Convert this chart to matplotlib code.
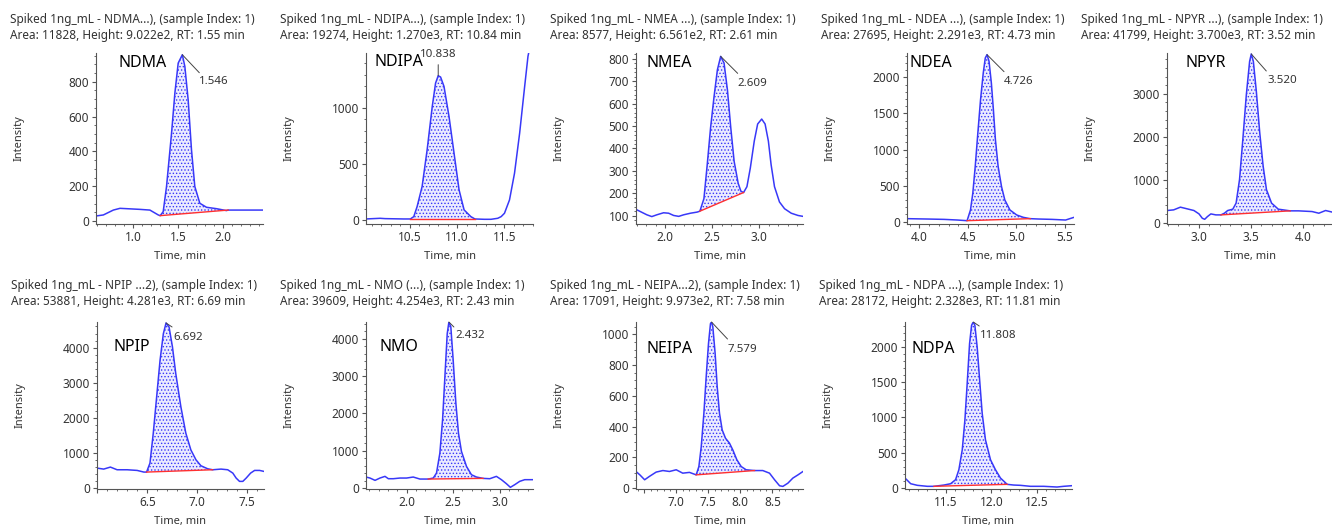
import numpy as np
import matplotlib
matplotlib.use("Agg")
import matplotlib.pyplot as plt
from matplotlib.ticker import MultipleLocator, AutoMinorLocator, FuncFormatter

plt.rcParams['font.family'] = ['Noto Sans', 'DejaVu Sans']
plt.rcParams['hatch.linewidth'] = 0.6

# ---- data (time in min, intensity in cps) ----
ndma_t = [0.585, 0.667, 0.778, 0.852, 1.074, 1.185, 1.278, 1.300, 1.333, 1.370, 1.426, 1.463, 1.500,
          1.546, 1.574, 1.611, 1.648, 1.685, 1.741, 1.815, 1.926, 2.037, 2.056, 2.111, 2.296, 2.444]
ndma_i = [29, 35, 63, 73, 67, 63, 35, 31, 54, 198, 505, 735, 907,
          955, 888, 696, 409, 198, 102, 79, 71, 60, 63, 63, 63, 63]

ndipa_t = [10.039, 10.188, 10.241, 10.436, 10.507, 10.543, 10.578, 10.631, 10.684, 10.738, 10.773, 10.801,
           10.826, 10.862, 10.915, 10.968, 11.021, 11.074, 11.145, 11.188, 11.287, 11.358, 11.429, 11.465,
           11.500, 11.553, 11.606, 11.660, 11.713, 11.748, 11.784, 11.801]
ndipa_i = [9, 15, 12, 9, 9, 30, 119, 299, 627, 1015, 1224, 1290,
           1278, 1194, 925, 597, 269, 90, 30, 9, 6, 6, 15, 30,
           60, 179, 418, 776, 1194, 1463, 1612, 1672]

nmea_t = [1.689, 1.732, 1.804, 1.857, 1.911, 1.982, 2.036, 2.089, 2.143, 2.196, 2.268, 2.339, 2.368,
          2.411, 2.446, 2.482, 2.518, 2.554, 2.589, 2.625, 2.661, 2.696, 2.732, 2.775, 2.804, 2.832,
          2.868, 2.904, 2.946, 2.982, 3.025, 3.061, 3.096, 3.125, 3.161, 3.214, 3.268, 3.339, 3.411, 3.464]
nmea_i = [129, 120, 105, 97, 105, 114, 112, 102, 98, 105, 112, 117, 121,
          177, 328, 494, 629, 750, 810, 780, 660, 494, 343, 245, 210, 204,
          230, 313, 433, 509, 531, 509, 433, 328, 230, 162, 132, 112, 102, 98]

ndea_t = [3.871, 4.080, 4.255, 4.394, 4.492, 4.527, 4.551, 4.576, 4.603, 4.631, 4.659, 4.680, 4.698,
          4.719, 4.743, 4.764, 4.785, 4.813, 4.848, 4.882, 4.935, 5.005, 5.074, 5.144, 5.231, 5.371,
          5.510, 5.563, 5.597]
ndea_i = [42, 37, 32, 23, 14, 162, 394, 764, 1227, 1690, 2060, 2269, 2315,
          2222, 1921, 1551, 1134, 764, 486, 301, 162, 93, 60, 42, 37, 32,
          23, 46, 60]

npyr_t = [2.692, 2.756, 2.821, 2.886, 2.951, 3.000, 3.032, 3.055, 3.081, 3.114, 3.162, 3.211, 3.244,
          3.276, 3.325, 3.357, 3.390, 3.422, 3.455, 3.487, 3.503, 3.523, 3.552, 3.584, 3.617, 3.649,
          3.698, 3.763, 3.877, 3.958, 4.088, 4.153, 4.218, 4.299]
npyr_i = [283, 298, 361, 322, 283, 204, 102, 79, 141, 204, 181, 181, 220,
          283, 314, 456, 1005, 1948, 2969, 3755, 3928, 3755, 3048, 2105, 1320, 770,
          456, 314, 275, 275, 259, 220, 283, 236]

npip_t = [5.997, 6.064, 6.131, 6.198, 6.299, 6.399, 6.466, 6.493, 6.527, 6.560, 6.594, 6.628, 6.661,
          6.688, 6.718, 6.752, 6.785, 6.836, 6.886, 6.936, 6.987, 7.037, 7.104, 7.154, 7.238, 7.305,
          7.356, 7.389, 7.423, 7.456, 7.490, 7.534, 7.574, 7.624, 7.668]
npip_i = [567, 539, 596, 520, 520, 501, 454, 454, 709, 1560, 2600, 3641, 4397,
          4700, 4586, 4019, 3262, 2317, 1560, 1087, 804, 634, 548, 520, 539, 520,
          425, 284, 189, 189, 284, 425, 501, 501, 473]

nmo_t = [1.564, 1.607, 1.661, 1.714, 1.768, 1.804, 1.857, 1.929, 2.000, 2.071, 2.143, 2.232, 2.286,
         2.321, 2.357, 2.386, 2.411, 2.436, 2.454, 2.475, 2.500, 2.529, 2.557, 2.589, 2.643, 2.696,
         2.750, 2.821, 2.893, 2.964, 3.018, 3.071, 3.114, 3.161, 3.214, 3.268, 3.321, 3.357]
nmo_i = [294, 267, 205, 267, 312, 249, 249, 267, 267, 294, 240, 240, 267,
         401, 935, 1826, 2984, 4142, 4454, 4321, 3430, 2272, 1470, 980, 579, 356,
         294, 258, 249, 312, 223, 116, 18, 89, 178, 223, 223, 223]

neipa_t = [6.370, 6.430, 6.505, 6.580, 6.685, 6.790, 6.893, 6.998, 7.100, 7.205, 7.310, 7.352, 7.389,
           7.430, 7.466, 7.502, 7.533, 7.549, 7.570, 7.606, 7.638, 7.674, 7.716, 7.768, 7.830, 7.882,
           7.945, 8.013, 8.090, 8.221, 8.350, 8.455, 8.534, 8.612, 8.664, 8.742, 8.820, 8.900, 8.978]
neipa_i = [108, 86, 54, 76, 104, 114, 108, 119, 97, 102, 86, 140, 270,
           486, 724, 940, 1069, 1080, 1048, 875, 659, 486, 378, 324, 292, 248,
           184, 140, 119, 114, 114, 97, 54, 15, 11, 32, 65, 86, 108]

ndpa_t = [11.056, 11.082, 11.118, 11.191, 11.300, 11.373, 11.482, 11.555, 11.609, 11.645, 11.682, 11.711,
          11.736, 11.762, 11.784, 11.802, 11.820, 11.845, 11.875, 11.900, 11.936, 11.991, 12.045, 12.100,
          12.173, 12.245, 12.318, 12.427, 12.573, 12.718, 12.791, 12.882]
ndpa_i = [141, 108, 61, 38, 24, 24, 42, 61, 118, 259, 541, 965,
          1482, 2047, 2306, 2353, 2306, 2000, 1482, 1059, 682, 400, 259, 141,
          52, 42, 38, 24, 24, 14, 24, 33]

compounds = ["NDMA", "NDIPA", "NMEA", "NDEA", "NPYR", "NPIP", "NMO", "NEIPA", "NDPA"]
title_names = ["NDMA...)", "NDIPA...)", "NMEA ...)", "NDEA ...)", "NPYR ...)",
               "NPIP ...2)", "NMO (...)", "NEIPA...2)", "NDPA ...)"]
areas = [11828, 19274, 8577, 27695, 41799, 53881, 39609, 17091, 28172]
heights = ["9.022e2", "1.270e3", "6.561e2", "2.291e3", "3.700e3", "4.281e3", "4.254e3", "9.973e2", "2.328e3"]
rts = [1.55, 10.84, 2.61, 4.73, 3.52, 6.69, 2.43, 7.58, 11.81]
peak_labels = ["1.546", "10.838", "2.609", "4.726", "3.520", "6.692", "2.432", "7.579", "11.808"]
# integration window: (start time, start level, end time, end level)
baselines = [(1.300, 31, 2.056, 63), (10.507, 9, 11.188, 9), (2.368, 121, 2.832, 204),
             (4.492, 14, 5.144, 42), (3.211, 181, 3.877, 275), (6.493, 454, 7.154, 520),
             (2.232, 240, 2.821, 258), (7.310, 86, 8.221, 114), (11.373, 24, 12.173, 52)]

traces = [(ndma_t, ndma_i), (ndipa_t, ndipa_i), (nmea_t, nmea_i), (ndea_t, ndea_i), (npyr_t, npyr_i),
          (npip_t, npip_i), (nmo_t, nmo_i), (neipa_t, neipa_i), (ndpa_t, ndpa_i)]

# ---- layout (pixels in a 1332x527 canvas) ----
W, H = 1332, 527
lefts = [96, 366, 636, 907, 1167, 97, 366, 636, 905]
row_top = [53, 322]
row_bot = [224, 489]
ax_w = 167
ylims = [(-17, 965), (-36, 1493), (64, 825), (-32, 2338), (-31, 3951),
         (-28, 4728), (-27, 4454), (-6, 1080), (-14, 2353)]
ysteps = [200, 500, 100, 500, 1000, 1000, 1000, 200, 500]
name_pos = [(0.133, 0.94), (0.05, 0.95), (0.064, 0.94), (0.016, 0.94), (0.11, 0.94),
            (0.10, 0.85), (0.08, 0.85), (0.064, 0.84), (0.04, 0.84)]
# leader line end and text anchor, offsets in pixels from the apex
leaders = [((17, -18), (17, -27)), ((0, 11), (0, 21)), ((17, -17), (17, -27)), ((17, -17), (17, -27)),
           ((15, -17), (16, -27)), ((6, -4), (7, -15)), ((5, -5), (7, -14)), ((16, -17), (16, -27)),
           ((6, -4), (7, -14))]

blue = "#3838f8"
red = "#ff3030"
txt = "#333333"

fig = plt.figure(figsize=(W / 100, H / 100), dpi=100)


def make_fmt(lo, hi):
    # the software leaves edge ticks unlabelled
    def f(v, pos):
        if (v - lo) / (hi - lo) < 0.06:
            return ""
        return f"{v:.1f}"
    return FuncFormatter(f)


for k in range(9):
    row = 0 if k < 5 else 1
    left = lefts[k]
    ax = fig.add_axes([left / W, 1 - row_bot[row] / H, ax_w / W, (row_bot[row] - row_top[row]) / H])
    t = np.array(traces[k][0])
    y = np.array(traces[k][1])

    # area under the peak, above the red baseline
    x0, y0, x1, y1 = baselines[k]
    inside = (t > x0) & (t < x1)
    px = np.concatenate([[x0], t[inside], [x1]])
    py = np.concatenate([[y0], y[inside], [y1]])
    ax.fill(px, py, facecolor="#ebebff", edgecolor=blue, hatch=".....", linewidth=0)
    ax.plot(t, y, color=blue, lw=1.1)
    ax.plot([x0, x1], [y0, y1], color=red, lw=1.0)

    ax.set_xlim(t[0], t[-1])
    ax.set_ylim(*ylims[k])
    ax.xaxis.set_major_locator(MultipleLocator(0.5))
    ax.xaxis.set_minor_locator(MultipleLocator(0.1))
    ax.yaxis.set_major_locator(MultipleLocator(ysteps[k]))
    ax.yaxis.set_minor_locator(AutoMinorLocator())
    ax.xaxis.set_major_formatter(make_fmt(t[0], t[-1]))
    for s in ["top", "right"]:
        ax.spines[s].set_visible(False)
    for s in ["left", "bottom"]:
        ax.spines[s].set_color("#555555")
        ax.spines[s].set_linewidth(0.8)
    ax.tick_params(which="major", length=3, width=0.8, colors="#555555", labelcolor=txt, labelsize=8.5, pad=2)
    ax.tick_params(which="minor", length=1.5, width=0.6, colors="#555555")
    ax.patch.set_alpha(0)

    ax.set_ylabel("Intensity", fontsize=8, color=txt)
    ax.yaxis.set_label_coords(-71 / ax_w, 0.5)
    ax.set_xlabel("Time, min", fontsize=8, color=txt)
    ax.xaxis.set_label_coords(0.5, -0.16)

    ax.text(name_pos[k][0], name_pos[k][1], compounds[k], transform=ax.transAxes,
            fontsize=11.5, color="black", va="center", ha="left")

    # apex marker and retention time label
    ip = int(np.argmax(np.where(inside, y, -1)))
    apex = (t[ip], y[ip])
    (lx, ly), (tx, ty) = leaders[k]
    ax.annotate("", xy=apex, xytext=(lx, ly), textcoords="offset pixels",
                arrowprops=dict(arrowstyle="-", color="#444444", lw=0.7, shrinkA=0, shrinkB=0))
    ax.annotate(peak_labels[k], xy=apex, xytext=(tx, ty), textcoords="offset pixels",
                fontsize=8.3, color=txt, va="center", ha="center" if k == 1 else "left")

    tx_px = left - 86
    fig.text(tx_px / W, 1 - (20 if row == 0 else 285) / H,
             f"Spiked 1ng_mL - {title_names[k]}, (sample Index: 1)",
             fontsize=8.5, color=txt, va="center", ha="left")
    fig.text(tx_px / W, 1 - (36 if row == 0 else 301) / H,
             f"Area: {areas[k]}, Height: {heights[k]}, RT: {rts[k]:.2f} min",
             fontsize=8.5, color=txt, va="center", ha="left")

fig.savefig("out.png", dpi=100)
